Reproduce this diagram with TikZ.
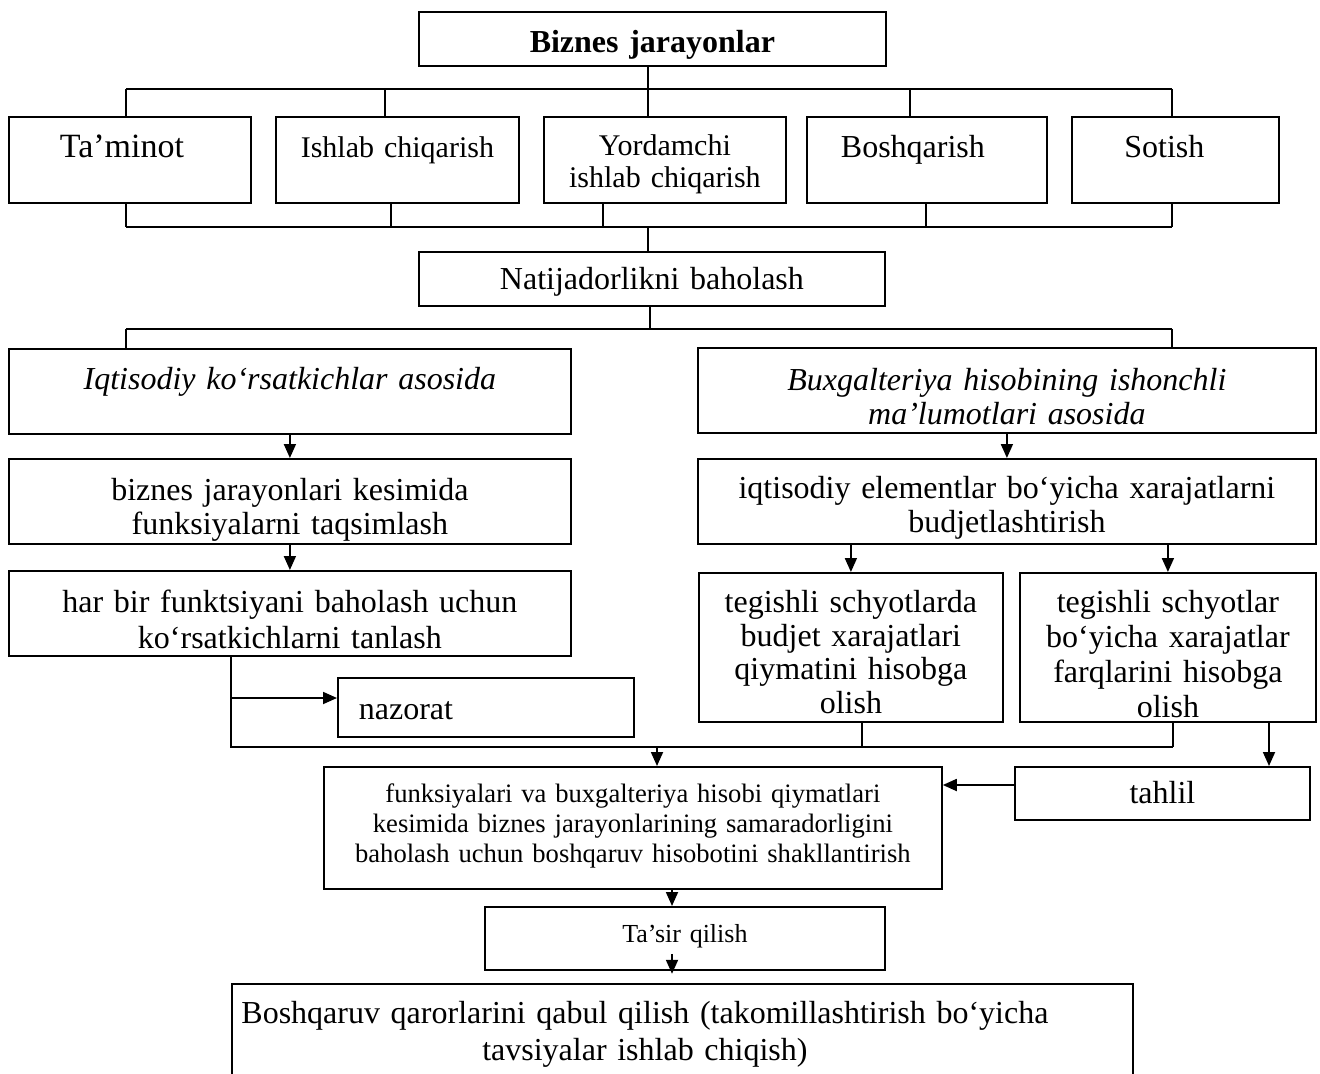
\documentclass[tikz,border=0pt]{standalone}
\usepackage{fontspec}
\setmainfont{Liberation Serif}
\usepackage{tikz}
\usetikzlibrary{arrows.meta}

\begin{document}
\begin{tikzpicture}[x=0.5pt,y=-0.5pt,
  blok/.style={draw,line width=0.9pt,inner sep=0pt,align=center,anchor=north west,
    font=\fontsize{16}{17}\selectfont},
  chiziq/.style={line width=0.9pt},
  strelka/.style={line width=0.9pt,-{Triangle[length=7pt,width=6pt]}}]
\useasboundingbox (0,0) rectangle (1320,1074);

\node[blok,text width=233.5pt,text height=20.5pt,text depth=6.5pt] (biznes) at (418,11) {\textbf{Biznes jarayonlar}};

\node[blok,text width=121pt,text height=20.5pt,text depth=22.5pt,font=\fontsize{17}{18}\selectfont] (taminot) at (8,116) {Ta’minot\hspace*{8pt}\null};
\node[blok,text width=121.5pt,text height=20.5pt,text depth=22.5pt,font=\fontsize{15}{16}\selectfont] (ishlab) at (275,116) {Ishlab chiqarish};
\node[blok,text width=121pt,text height=19.5pt,text depth=23.5pt,font=\fontsize{15}{16}\selectfont] (yordamchi) at (543,116) {Yordamchi\\ishlab chiqarish};
\node[blok,text width=120pt,text height=20.5pt,text depth=22.5pt] (boshqarish) at (806,116) {Boshqarish\hspace*{14pt}\null};
\node[blok,text width=103.5pt,text height=20.5pt,text depth=22.5pt] (sotish) at (1071,116) {Sotish\hspace*{11pt}\null};

\node[blok,text width=233pt,text height=19pt,text depth=8pt] (natija) at (418,251) {Natijadorlikni baholash};

\node[blok,text width=281pt,text height=20.5pt,text depth=22pt,font=\fontsize{16}{17}\selectfont\itshape] (iqtisod) at (8,348) {Iqtisodiy ko‘rsatkichlar asosida};
\node[blok,text width=309pt,text height=21.5pt,text depth=21pt,font=\fontsize{16}{17}\selectfont\itshape] (buxgalter) at (697,347) {Buxgalteriya hisobining ishonchli\\ma’lumotlari asosida};

\node[blok,text width=281pt,text height=21pt,text depth=21.5pt] (taqsim) at (8,458) {biznes jarayonlari kesimida\\funksiyalarni taqsimlash};
\node[blok,text width=309pt,text height=20pt,text depth=22.5pt] (budjet) at (697,458) {iqtisodiy elementlar bo‘yicha xarajatlarni\\budjetlashtirish};

\node[blok,text width=281pt,text height=21pt,text depth=21.5pt,font=\fontsize{16}{18}\selectfont] (tanlash) at (8,570) {har bir funktsiyani baholash uchun\\ko‘rsatkichlarni tanlash};
\node[blok,text width=152pt,text height=20pt,text depth=54.5pt,font=\fontsize{16}{16.75}\selectfont] (schyot1) at (698,572) {tegishli schyotlarda\\budjet xarajatlari\\qiymatini hisobga\\olish};
\node[blok,text width=148pt,text height=20pt,text depth=54.5pt,font=\fontsize{16}{17.5}\selectfont] (schyot2) at (1019,572) {tegishli schyotlar\\bo‘yicha xarajatlar\\farqlarini hisobga\\olish};

\node[blok,text width=148pt,text height=21pt,text depth=8.5pt,align=left] (nazorat) at (337,677) {\hspace*{10.5pt}nazorat};
\node[blok,text width=147.5pt,text height=18.5pt,text depth=8pt] (tahlil) at (1014,766) {tahlil};

\node[blok,text width=309pt,text height=18pt,text depth=43pt,font=\fontsize{13.3}{15}\selectfont] (hisobot) at (323,766) {funksiyalari va buxgalteriya hisobi qiymatlari\\kesimida biznes jarayonlarining samaradorligini\\baholash uchun boshqaruv hisobotini shakllantirish};
\node[blok,text width=200pt,text height=18pt,text depth=13.5pt,font=\fontsize{13}{15}\selectfont] (tasir) at (484,906) {Ta’sir qilish};
\node[blok,text width=450.5pt,text height=20pt,text depth=38.5pt,font=\fontsize{16}{18.5}\selectfont] (qaror) at (231,983) {Boshqaruv qarorlarini qabul qilish (takomillashtirish bo‘yicha\hspace*{37.5pt}\null\\tavsiyalar ishlab chiqish)\hspace*{37.5pt}\null};

% yordamchi nuqtalar
\coordinate (a1) at (126,89);
\coordinate (a2) at (385,89);
\coordinate (a3) at (648,89);
\coordinate (a4) at (910,89);
\coordinate (a5) at (1172,89);
\coordinate (b0) at (648,227);
\coordinate (b1) at (126,227);
\coordinate (b2) at (391,227);
\coordinate (b3) at (603,227);
\coordinate (b4) at (926,227);
\coordinate (b5) at (1172,227);
\coordinate (c0) at (650,329);
\coordinate (c1) at (126,329);
\coordinate (c2) at (1172,329);
\coordinate (d0) at (657,747);
\coordinate (d1) at (231,747);
\coordinate (d2) at (862,747);
\coordinate (d3) at (1173,747);
\coordinate (e1) at (231,698);
\coordinate (f1) at (1269,721);
\coordinate (g1) at (1014,785);
\coordinate (h1) at (672,888);

\draw[chiziq] (a3 |- biznes.south) -- (a3 |- yordamchi.north);
\draw[chiziq] (a1) -- (a5);
\foreach \p/\n in {a1/taminot,a2/ishlab,a4/boshqarish,a5/sotish}
\draw[chiziq] (\p) -- (\p |- \n.north);

\draw[chiziq] (b1) -- (b5);
\foreach \p/\n in {b1/taminot,b2/ishlab,b3/yordamchi,b4/boshqarish,b5/sotish}
\draw[chiziq] (\p |- \n.south) -- (\p);
\draw[chiziq] (b0) -- (b0 |- natija.north);

\draw[chiziq] (c0 |- natija.south) -- (c0);
\draw[chiziq] (c1) -- (c2);
\draw[chiziq] (c1) -- (c1 |- iqtisod.north);
\draw[chiziq] (c2) -- (c2 |- buxgalter.north);

\draw[strelka] (iqtisod.south) -- (taqsim.north);
\draw[strelka] (taqsim.south) -- (tanlash.north);
\draw[strelka] (buxgalter.south) -- (budjet.north);
\draw[strelka] (budjet.south -| schyot1) -- (schyot1.north);
\draw[strelka] (budjet.south -| schyot2) -- (schyot2.north);

\draw[chiziq] (tanlash.south -| d1) -- (d1) -- (d3);
\draw[chiziq] (schyot1.south -| d2) -- (d2);
\draw[chiziq] (schyot2.south -| d3) -- (d3);
\draw[strelka] (e1) -- (e1 -| nazorat.west);
\draw[strelka] (d0) -- (d0 |- hisobot.north);
\draw[strelka] (f1) -- (f1 |- tahlil.north);
\draw[strelka] (g1) -- (g1 -| hisobot.east);

\draw[strelka] (h1) -- (h1 |- tasir.north);
\draw[strelka] ([yshift=8.5pt]h1 |- tasir.south) -- ([yshift=-1.5pt]h1 |- tasir.south);
\end{tikzpicture}
\end{document}
